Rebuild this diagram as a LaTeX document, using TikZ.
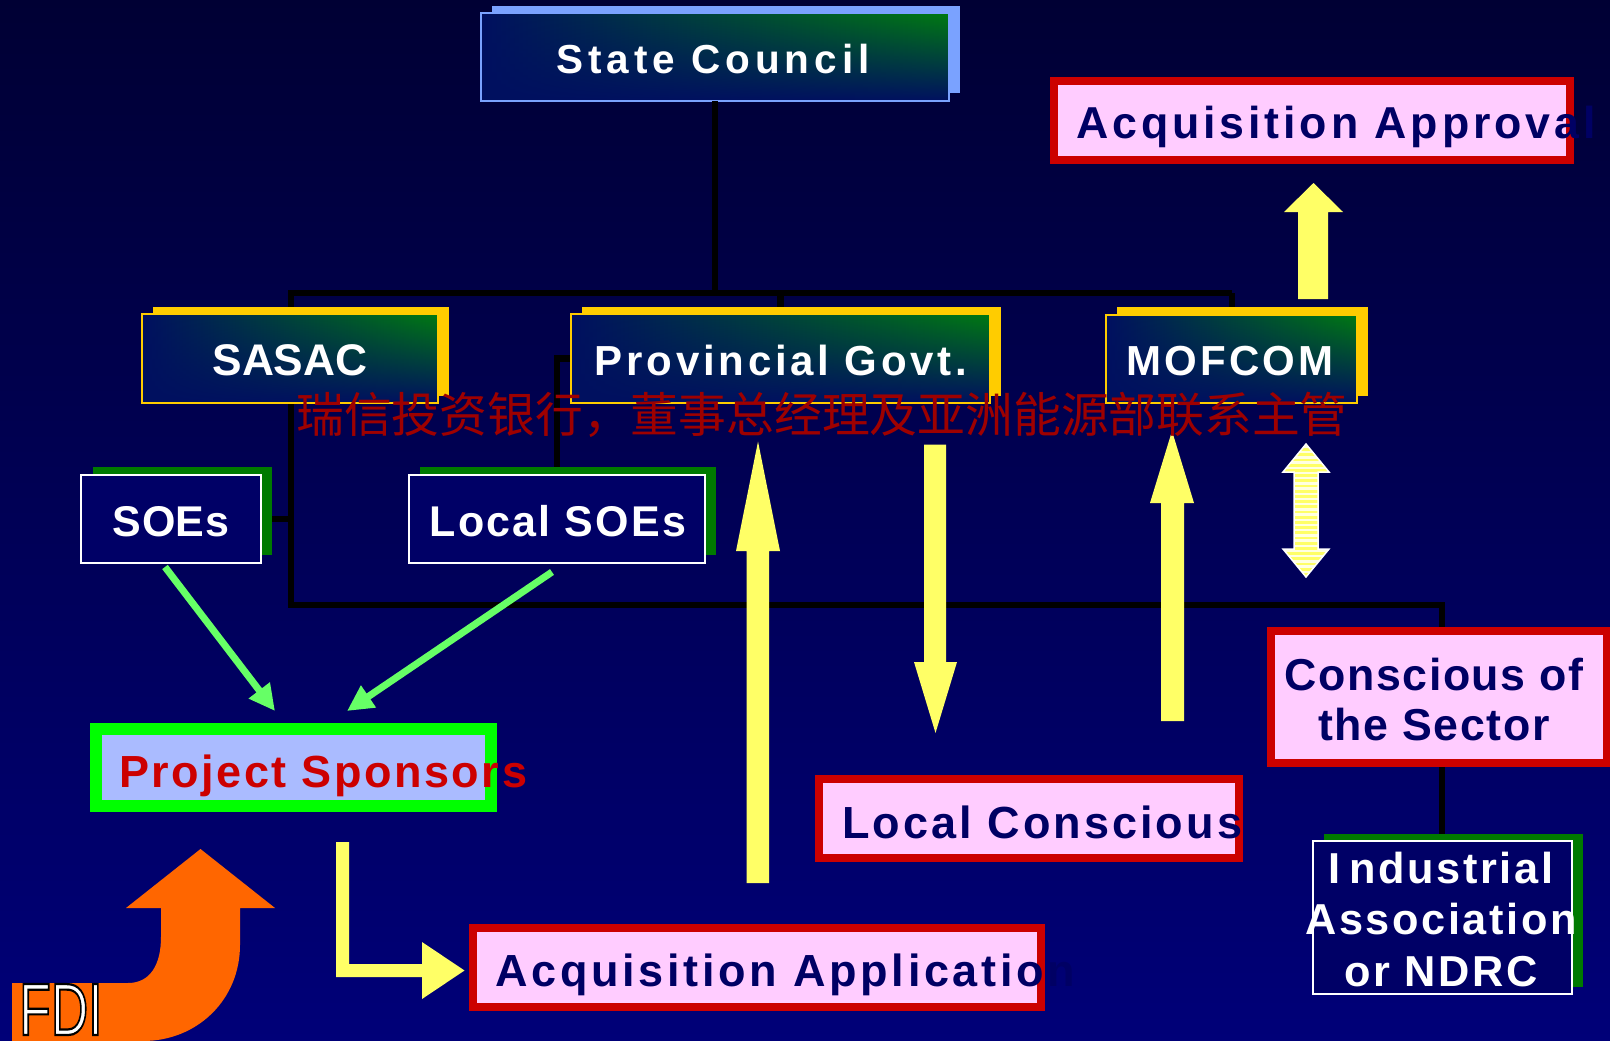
\documentclass[tikz,border=0pt]{standalone}
\usepackage{fontspec}
\usepackage{graphicx}
\setmainfont{Liberation Sans}
\newfontfamily\cjkfont{Noto Sans CJK SC}
\newfontfamily\fdifont{Liberation Sans}[FakeBold=3]
\usetikzlibrary{arrows.meta,fadings}
\definecolor{bgtop}{RGB}{0,0,52}
\definecolor{bgbot}{RGB}{0,0,120}
\definecolor{gnavy}{RGB}{0,16,96}
\definecolor{ggreen}{RGB}{0,122,18}
\definecolor{sky}{RGB}{122,162,255}
\definecolor{gold}{RGB}{255,204,0}
\definecolor{pinkfill}{RGB}{255,204,255}
\definecolor{redline}{RGB}{204,0,0}
\definecolor{navytext}{RGB}{0,0,100}
\definecolor{shadgreen}{RGB}{0,122,0}
\definecolor{boxnavy}{RGB}{0,0,102}
\definecolor{lime}{RGB}{0,255,0}
\definecolor{periw}{RGB}{170,187,255}
\definecolor{lightgreen}{RGB}{102,255,102}
\definecolor{yel}{RGB}{255,255,102}
\definecolor{paleyel}{RGB}{255,255,225}
\definecolor{orng}{RGB}{255,102,0}
\definecolor{cjkred}{RGB}{158,0,0}
\tikzfading[name=boxfade, top color=transparent!100, middle color=transparent!85, bottom color=transparent!0]
\newcommand{\lsp}[1]{\addfontfeature{LetterSpace=#1}}
\tikzset{
  govbox/.style={rectangle, inner sep=0pt, outer sep=0pt, left color=gnavy, right color=ggreen,
    postaction={fill=gnavy, path fading=boxfade},
    postaction={draw=#1, line width=2pt}},
  pinkbox/.style={rectangle, inner sep=0pt, outer sep=0pt, draw=redline, line width=8pt, fill=pinkfill},
  psbox/.style={rectangle, inner sep=0pt, outer sep=0pt, draw=lime, line width=12pt, fill=periw},
  whitebox/.style={rectangle, inner sep=0pt, outer sep=0pt, draw=white, line width=2pt, fill=boxnavy},
  conn/.style={draw=black, line width=6.5pt},
  garrow/.style={draw=lightgreen, line width=7pt, -{Triangle[length=26pt,width=25pt]}},
  yarrow/.style={fill=yel},
  txt/.style={inner sep=0pt, anchor=base},
  txtw/.style={inner sep=0pt, anchor=base west},
}
\begin{document}
\begin{tikzpicture}[x=1pt,y=-1pt]
\useasboundingbox (0,0) rectangle (1610,1041);
\shade[top color=bgtop, bottom color=bgbot] (0,0) rectangle (1610,1041);

% ---------- top box ----------
\fill[sky] (492,6) rectangle (960,93);
\node[govbox=sky, minimum width=468pt, minimum height=88pt] (sc) at (715,57) {};

\coordinate (hl) at (291,293);
\coordinate (hr) at (1232,293);
\coordinate (bl) at (291,605);
\coordinate (br) at (1442,605);
\path (290,358.5) coordinate (sasacc) (780.5,358.5) coordinate (provc) (1231.5,359) coordinate (mofc)
      (171,519) coordinate (soesc) (557,519) coordinate (lsoesc) (1439,697) coordinate (csc) (1442.5,917.5) coordinate (iac);

% connectors (drawn under boxes)
\draw[conn] (sc.south) -- (sc.south |- hl);
\draw[conn] (hr) -- (hl) -- (bl) -- (br) -- (br |- csc);
\draw[conn] (provc |- hl) -- (provc);
\draw[conn] (hr) -- (hr |- mofc);
\draw[conn] (soesc) -- (soesc -| hl);
\draw[conn] (provc) -| (lsoesc);
\draw[conn] (br |- csc) -- (br |- iac);

% government boxes
\fill[gold] (153,307) rectangle (449,396);
\node[govbox=gold, minimum width=296pt, minimum height=89pt] (sasac) at (sasacc) {};
\fill[gold] (582,307) rectangle (1001,396);
\node[govbox=gold, minimum width=419pt, minimum height=89pt] (prov) at (provc) {};
\fill[gold] (1117,307) rectangle (1368,396);
\node[govbox=gold, minimum width=251pt, minimum height=88pt] (mof) at (mofc) {};

% SOE boxes
\fill[shadgreen] (93,467) rectangle (272,555);
\node[whitebox, minimum width=180pt, minimum height=88pt] (soes) at (soesc) {};
\fill[shadgreen] (420,467) rectangle (716,555);
\node[whitebox, minimum width=296pt, minimum height=88pt] (lsoes) at (lsoesc) {};

% pink boxes
\node[pinkbox, minimum width=516pt, minimum height=79pt] (appr) at (1312,120.5) {};
\node[pinkbox, minimum width=420pt, minimum height=79pt] (lc) at (1029,818.5) {};
\node[pinkbox, minimum width=568pt, minimum height=79pt] (aa) at (757,967.5) {};
\node[pinkbox, minimum width=336pt, minimum height=132pt] (cs) at (csc) {};

% project sponsors
\node[psbox, minimum width=395pt, minimum height=77pt] (ps) at (293.5,767.5) {};

% industrial association
\fill[shadgreen] (1324,834) rectangle (1583,987);
\node[whitebox, minimum width=259pt, minimum height=153pt] (ia) at (iac) {};

% ---------- yellow block arrows ----------
\fill[yarrow] (1298,299) -- (1298,212) -- (1284,212) -- (1313.5,183) -- (1343,212) -- (1328,212) -- (1328,299) -- cycle;
\fill[yarrow] (746.5,883) -- (746.5,551) -- (736,551) -- (758,441.5) -- (780,551) -- (769,551) -- (769,883) -- cycle;
\fill[yarrow] (924,444.6) -- (924,662) -- (914,662) -- (935.5,733) -- (957,662) -- (946,662) -- (946,444.6) -- cycle;
\fill[yarrow] (1161,721) -- (1161,503) -- (1150,503) -- (1172,431) -- (1194,503) -- (1184,503) -- (1184,721) -- cycle;
\fill[yarrow] (336,842) -- (349,842) -- (349,964) -- (422,964) -- (422,942) -- (464.5,970.5) -- (422,999) -- (422,977) -- (336,977) -- cycle;

% double arrow with stripes
\begin{scope}
\clip (1306,444) -- (1329,472) -- (1318,472) -- (1318,549) -- (1329,549) -- (1306,577) -- (1283,549) -- (1294,549) -- (1294,472) -- (1283,472) -- cycle;
\fill[yel] (1278,440) rectangle (1335,580);
\foreach \k in {0,...,25} \draw[paleyel, line width=2.3pt] (1278,447+5.2*\k) -- (1335,447+5.2*\k);
\end{scope}
\draw[white, line width=1.5pt] (1306,444) -- (1329,472) -- (1318,472) -- (1318,549) -- (1329,549) -- (1306,577) -- (1283,549) -- (1294,549) -- (1294,472) -- (1283,472) -- cycle;

% green arrows
\coordinate (g1s) at (165,567);
\coordinate (g1e) at (275,711);
\coordinate (g2s) at (552,572);
\coordinate (g2e) at (347,711);
\draw[garrow] (g1s) -- (g1e);
\draw[garrow] (g2s) -- (g2e);

% FDI arrow
\fill[orng] (12,983) -- (128,983) .. controls (150,983) and (161,965) .. (161,937) -- (161,908) -- (126,908) -- (200.5,849) -- (275,908) -- (240,908) -- (240,945) .. controls (240,1000) and (197,1041) .. (143,1041) -- (12,1041) -- cycle;

% ---------- texts ----------
\node[txt, text=white, font=\bfseries\fontsize{40.5}{45}\selectfont] (t-sc) at (713,74) {\lsp{12.2}State Council};
\node[txt, text=white, font=\bfseries\fontsize{44.3}{50}\selectfont] (t-sasac) at (290,375) {SASAC};
\node[txt, text=white, font=\bfseries\fontsize{42}{48}\selectfont] (t-prov) at (781,375) {\lsp{9}Provincial Govt.};
\node[txt, text=white, font=\bfseries\fontsize{42}{48}\selectfont] (t-mof) at (1230,375) {\lsp{7.5}MOFCOM};
\node[txt, text=white, font=\bfseries\fontsize{43}{48}\selectfont] (t-soes) at (171,536) {\lsp{1}SOEs};
\node[txt, text=white, font=\bfseries\fontsize{43}{48}\selectfont] (t-lsoes) at (558,536) {\lsp{5}Local SOEs};
\node[txtw, text=redline, font=\bfseries\fontsize{45}{50}\selectfont] (t-ps) at (119,787) {\lsp{5.6}Project Sponsors};
\node[txtw, text=navytext, font=\bfseries\fontsize{44.7}{50}\selectfont] (t-appr) at (1076,139) {\lsp{8.7}Acquisition Approval};
\node[txtw, text=navytext, font=\bfseries\fontsize{45}{50}\selectfont] (t-lc) at (842,838) {\lsp{6.8}Local Conscious};
\node[txtw, text=navytext, font=\bfseries\fontsize{45}{50}\selectfont] (t-aa) at (495,986) {\lsp{8.2}Acquisition Application};
\node[txt, align=center, text=navytext, font=\bfseries\fontsize{44.7}{50}\selectfont] (t-cs) at (1434,740) {\lsp{3.5}Conscious of\\\lsp{3.5}the Sector};
\node[txt, align=center, text=white, font=\bfseries\fontsize{43.3}{51.5}\selectfont] (t-ia) at (1441,986) {\lsp{6}I\kern9pt ndustrial\\\lsp{6}Association\\\lsp{6}or NDRC};
\node[txtw, text=white] (t-fdi) at (19,1035) {\scalebox{0.7}[1]{\fdifont\fontsize{74}{80}\selectfont\special{pdf:literal direct 0 0 0 RG}FDI}};

% Chinese overlay
\node[txt, text=cjkred, font=\cjkfont\fontsize{47.8}{50}\selectfont] (t-cjk) at (822,432) {瑞信投资银行，董事总经理及亚洲能源部联系主管};
\end{tikzpicture}
\end{document}
